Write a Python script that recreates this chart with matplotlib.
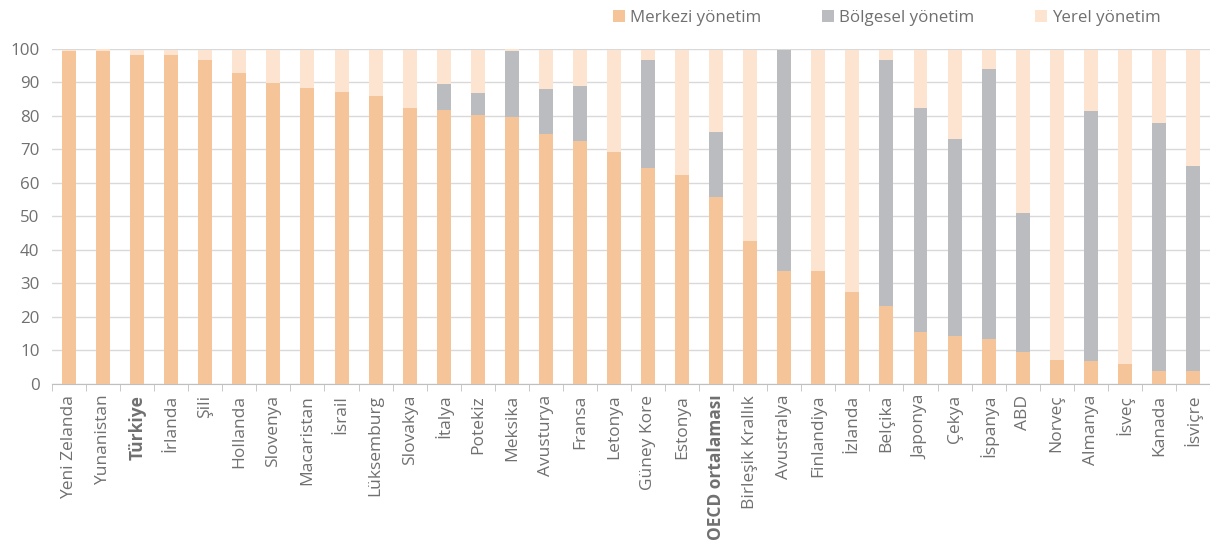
import matplotlib
matplotlib.use("Agg")
import matplotlib.pyplot as plt
import numpy as np

countries = [
    "Yeni Zelanda", "Yunanistan", "Türkiye", "İrlanda", "Şili", "Hollanda",
    "Slovenya", "Macaristan", "İsrail", "Lüksemburg", "Slovakya", "İtalya",
    "Potekiz", "Meksika", "Avusturya", "Fransa", "Letonya", "Güney Kore",
    "Estonya", "OECD ortalaması", "Birleşik Krallık", "Avustralya",
    "Finlandiya", "İzlanda", "Belçika", "Japonya", "Çekya", "İspanya", "ABD",
    "Norveç", "Almanya", "İsveç", "Kanada", "İsviçre",
]
central = [
    99.5, 99.5, 98.2, 98.2, 96.8, 92.7, 89.9, 88.4, 87.0, 85.8, 82.2, 81.6,
    80.3, 79.6, 74.7, 72.6, 69.1, 64.3, 62.3, 55.8, 42.6, 33.6, 33.6, 27.4,
    23.2, 15.6, 14.2, 13.5, 9.4, 7.2, 6.7, 5.9, 3.8, 3.8,
]
regional = [
    0.0, 0.0, 0.0, 0.0, 0.0, 0.0, 0.0, 0.0, 0.0, 0.0, 0.0, 8.0,
    6.4, 19.8, 13.4, 16.4, 0.0, 32.5, 0.0, 19.3, 0.0, 66.1, 0.0, 0.0,
    73.5, 66.6, 58.9, 80.5, 41.6, 0.0, 74.8, 0.0, 74.1, 61.1,
]
local = [
    0.3, 0.8, 1.6, 1.6, 3.0, 7.1, 9.9, 11.4, 12.8, 14.0, 17.6, 10.2,
    13.1, 0.8, 11.7, 10.8, 30.7, 3.0, 37.5, 24.7, 57.2, 0.1, 66.2, 72.4,
    3.1, 17.6, 26.7, 5.8, 48.8, 92.6, 18.3, 93.9, 21.9, 34.9,
]
bold_labels = ["Türkiye", "OECD ortalaması"]
series_names = ["Merkezi yönetim", "Bölgesel yönetim", "Yerel yönetim"]

C_CENTRAL = "#f6c499"
C_REGIONAL = "#bbbcc0"
C_LOCAL = "#fce4d1"
TEXT = "#707070"

plt.rcParams["font.family"] = ["Open Sans", "DejaVu Sans"]

fig = plt.figure(figsize=(12.1, 5.49), dpi=100)
ax = fig.add_axes([0.043, 0.301, 0.957, 0.61])

x = np.arange(len(countries))
central = np.array(central)
regional = np.array(regional)
local = np.array(local)
w = 0.41

b1 = ax.bar(x, central, w, color=C_CENTRAL, label=series_names[0], zorder=3)
b2 = ax.bar(x, regional, w, bottom=central, color=C_REGIONAL,
            label=series_names[1], zorder=3)
b3 = ax.bar(x, local, w, bottom=central + regional, color=C_LOCAL,
            label=series_names[2], zorder=3)

ax.set_xlim(-0.5, len(countries) - 0.5)
ax.set_ylim(0, 100)
ax.set_yticks(range(0, 101, 10))
ax.grid(axis="y", color="#d9d9d9", linewidth=1.0, zorder=0)

for side in ("top", "right", "left"):
    ax.spines[side].set_visible(False)
ax.spines["bottom"].set_color("#bfbfbf")

ax.tick_params(axis="y", length=0, labelsize=12.2, labelcolor=TEXT, pad=9)
ax.set_xticks(x)
ax.set_xticklabels(countries, rotation=90, fontsize=12.5, color=TEXT)
ax.tick_params(axis="x", length=0, pad=8)
for lab in ax.get_xticklabels():
    if lab.get_text() in bold_labels:
        lab.set_fontweight("bold")

# tick marks between categories, Excel style
ax.set_xticks(np.arange(-0.5, len(countries), 1.0), minor=True)
ax.tick_params(axis="x", which="minor", length=5, color="#bfbfbf", direction="out")

fig.legend(handles=[b1, b2, b3], labels=series_names, loc="center",
           bbox_to_anchor=(0.733, 0.968), ncol=3, frameon=False,
           fontsize=12.2, labelcolor=TEXT, handlelength=0.7, handleheight=0.7,
           handletextpad=0.3, columnspacing=3.6)

fig.savefig("out.png", dpi=100)
